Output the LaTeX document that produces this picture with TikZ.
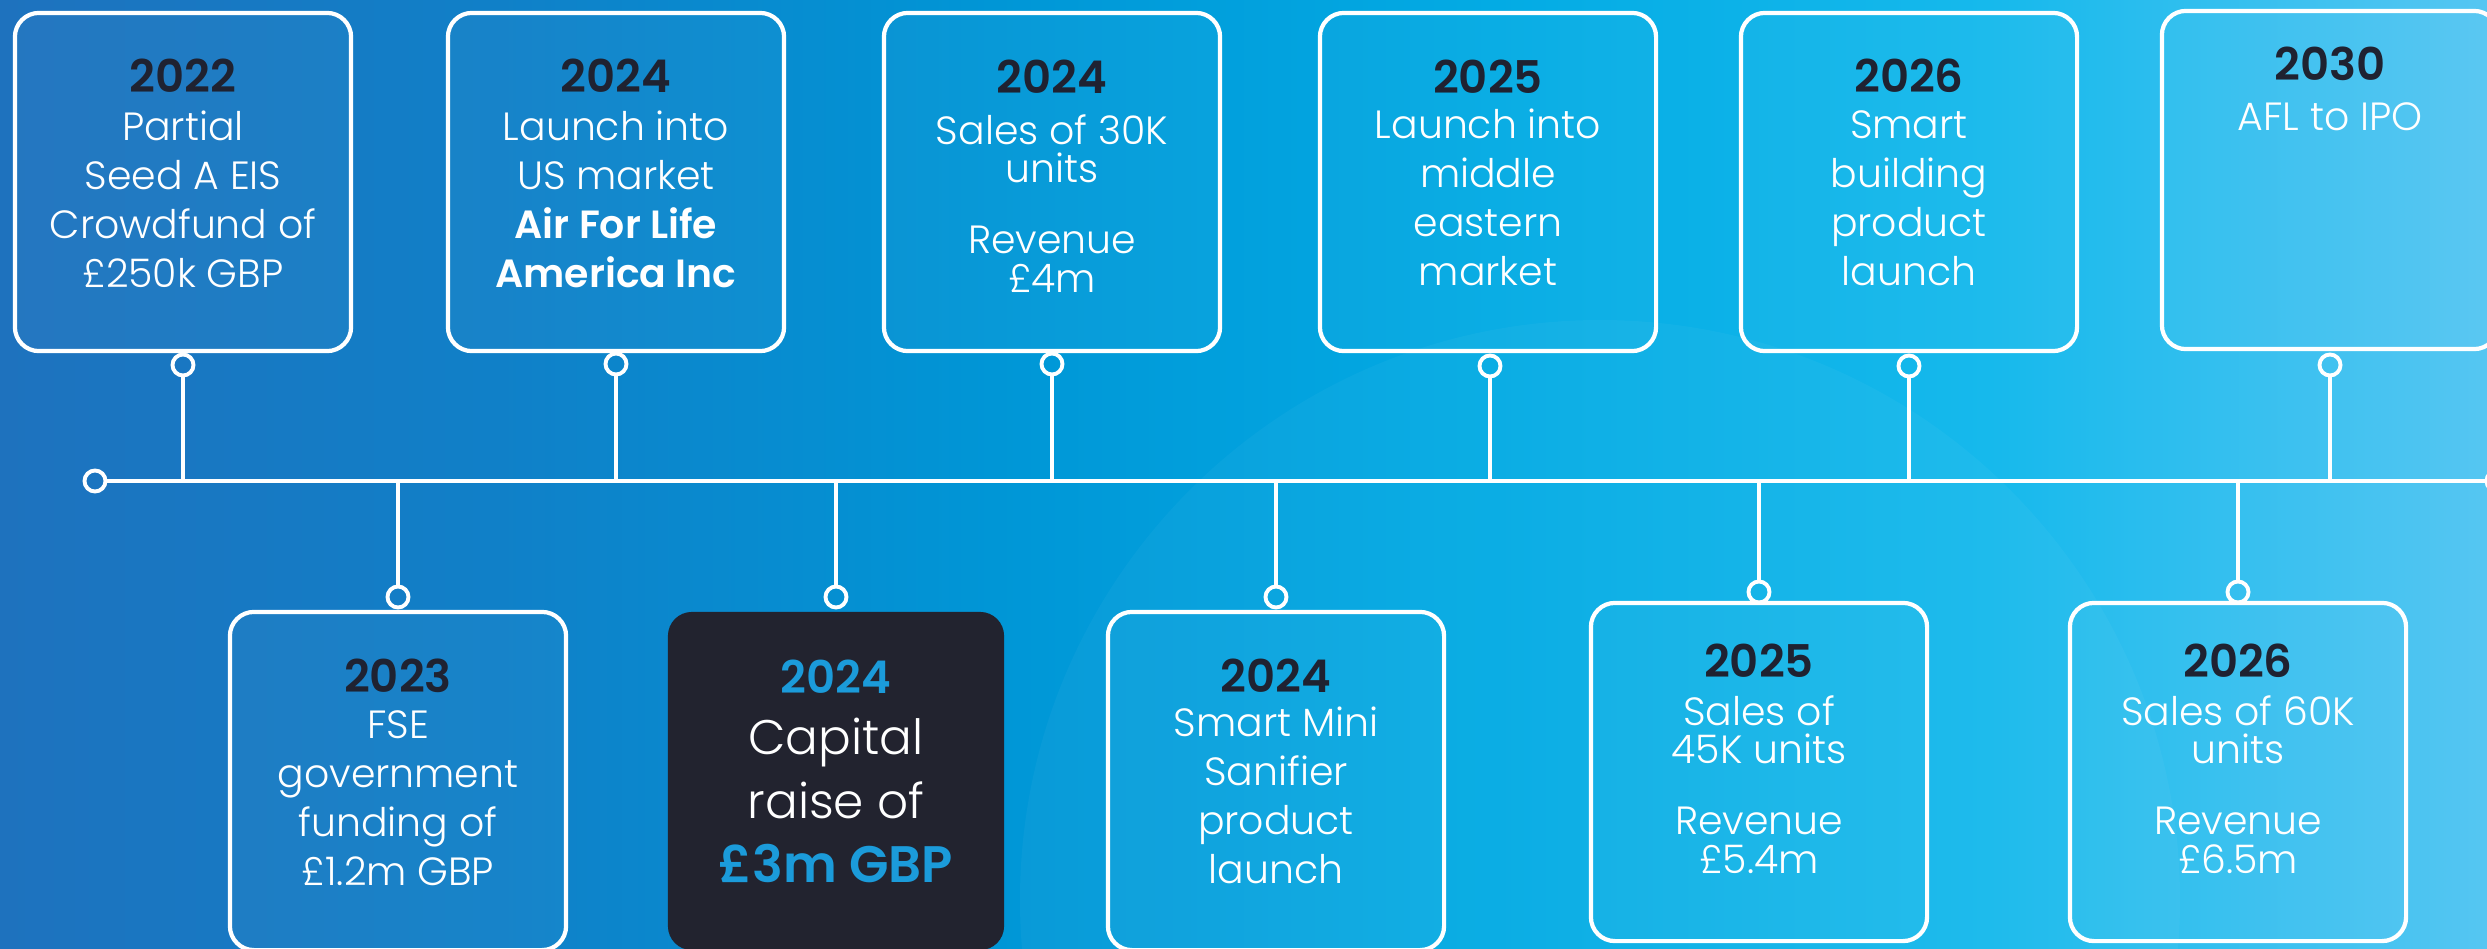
\documentclass[tikz,border=0pt]{standalone}
\usepackage{fontspec}
\setmainfont{Poppins}[UprightFont=* Light, BoldFont=* SemiBold]
\usetikzlibrary{positioning}

\definecolor{navy}{HTML}{1F2231}
\definecolor{cardnavy}{HTML}{22232F}
\definecolor{accent}{HTML}{1B9BDA}
\definecolor{skyA}{HTML}{1E72BE}
\definecolor{skyB}{HTML}{1080C8}
\definecolor{skyC}{HTML}{0096D6}
\definecolor{skyD}{HTML}{03ABE4}
\definecolor{skyE}{HTML}{16B9EC}
\definecolor{skyF}{HTML}{55C6F2}
\pgfdeclarehorizontalshading{skyshade}{100bp}{color(0bp)=(skyA); color(25bp)=(skyA);
  color(35bp)=(skyB); color(45bp)=(skyC); color(55bp)=(skyD); color(65bp)=(skyE);
  color(75bp)=(skyF); color(100bp)=(skyF)}

\begin{document}
\begin{tikzpicture}[x=0.01cm,y=-0.01cm,
    card/.style={
% The shape:
rectangle, rounded corners=0.24cm,
% The size:
minimum width=3.36cm, minimum height=3.38cm,
% The border:
draw=white, line width=1.2pt, fill=white, fill opacity=0.03,
},
    darkcard/.style={
% The shape:
rectangle, rounded corners=0.24cm,
% The size:
minimum width=3.36cm, minimum height=3.38cm,
% The fill:
fill=cardnavy,
},
    ring/.style={
% The shape:
circle, inner sep=0pt,
% The size:
minimum size=0.21cm,
% The border:
draw=white, line width=1.1pt,
},
    year/.style={anchor=base, text=navy, font=\fontsize{12.8}{14}\selectfont\bfseries},
    note/.style={anchor=base, text=white, align=center, font=\fontsize{11.2}{13.85}\selectfont},
    tight/.style={font=\fontsize{11.2}{11}\selectfont},
    stem/.style={draw=white, line width=1.1pt},
    spine/.style={draw=white, line width=1.4pt},
]
  \useasboundingbox (0,0) rectangle (2487,948);
  \clip (0,0) rectangle (2487,948);
  \shade[shading=skyshade] (0,0) rectangle (2487,948);
  \fill[white, opacity=0.035] (1600,900) circle (580);

  % the time line
  \node[ring] (begin)  at (95,481) {};
  \node[ring] (finish) at (2497,481) {};
  \draw[spine] (begin) -- (finish);

  % milestones above the line (notes sit on their last baseline)
  \node[card] (c22) at (183,182) {};
  \node[year] at (183,92) {2022};
  \node[note] at (183,287) {Partial\\Seed A EIS\\Crowdfund of\\£250k GBP};
  \node[ring] (r22) at (183,365) {};

  \node[card] (c24a) at (616,182) {};
  \node[year] at (616,92) {2024};
  \node[note] at (616,287) {Launch into\\US market\\{\bfseries Air For Life}\\{\bfseries America Inc}};
  \node[ring] (r24a) at (616,364) {};

  \node[card] (c24b) at (1052,182) {};
  \node[year] at (1052,93) {2024};
  \node[note, tight] at (1052,292) {Sales of 30K\\units\\[9pt]Revenue\\£4m};
  \node[ring] (r24b) at (1052,364) {};

  \node[card] (c25a) at (1488,182) {};
  \node[year] at (1488,93) {2025};
  \node[note] at (1488,285) {Launch into\\middle\\eastern\\market};
  \node[ring] (r25a) at (1490,366) {};

  \node[card] (c26a) at (1909,182) {};
  \node[year] at (1909,92) {2026};
  \node[note] at (1909,285) {Smart\\building\\product\\launch};
  \node[ring] (r26a) at (1909,366) {};

  \node[card] (c30) at (2330,180) {};
  \node[year] at (2330,80) {2030};
  \node[note] at (2330,130) {AFL to IPO};
  \node[ring] (r30) at (2330,365) {};

  % milestones below the line
  \node[card] (c23) at (398,781) {};
  \node[year] at (398,692) {2023};
  \node[note] at (398,885) {FSE\\government\\funding of\\£1.2m GBP};
  \node[ring] (r23) at (398,597) {};

  \node[darkcard] (c24c) at (836,781) {};
  \node[year, text=accent] at (836,693) {2024};
  \node[note, font=\fontsize{13.8}{18.2}\selectfont] at (836,882)
    {Capital\\raise of\\{\bfseries\color{accent}\fontsize{14.6}{18.2}\selectfont £3m GBP}};
  \node[ring] (r24c) at (836,597) {};

  \node[card] (c24d) at (1276,781) {};
  \node[year] at (1276,692) {2024};
  \node[note] at (1276,883) {Smart Mini\\Sanifier\\product\\launch};
  \node[ring] (r24d) at (1276,597) {};

  \node[card] (c25b) at (1759,772) {};
  \node[year] at (1759,677) {2025};
  \node[note, tight] at (1759,873) {Sales of\\45K units\\[9pt]Revenue\\£5.4m};
  \node[ring] (r25b) at (1759,592) {};

  \node[card] (c26b) at (2238,772) {};
  \node[year] at (2238,677) {2026};
  \node[note, tight] at (2238,873) {Sales of 60K\\units\\[9pt]Revenue\\£6.5m};
  \node[ring] (r26b) at (2238,592) {};

  % stems
  \foreach \r in {r22,r24a,r24b,r25a,r26a,r30}
    \draw[stem] (\r) -- (\r |- begin);
  \foreach \r in {r23,r24c,r24d,r25b,r26b}
    \draw[stem] (\r |- begin) -- (\r);

\end{tikzpicture}
\end{document}
